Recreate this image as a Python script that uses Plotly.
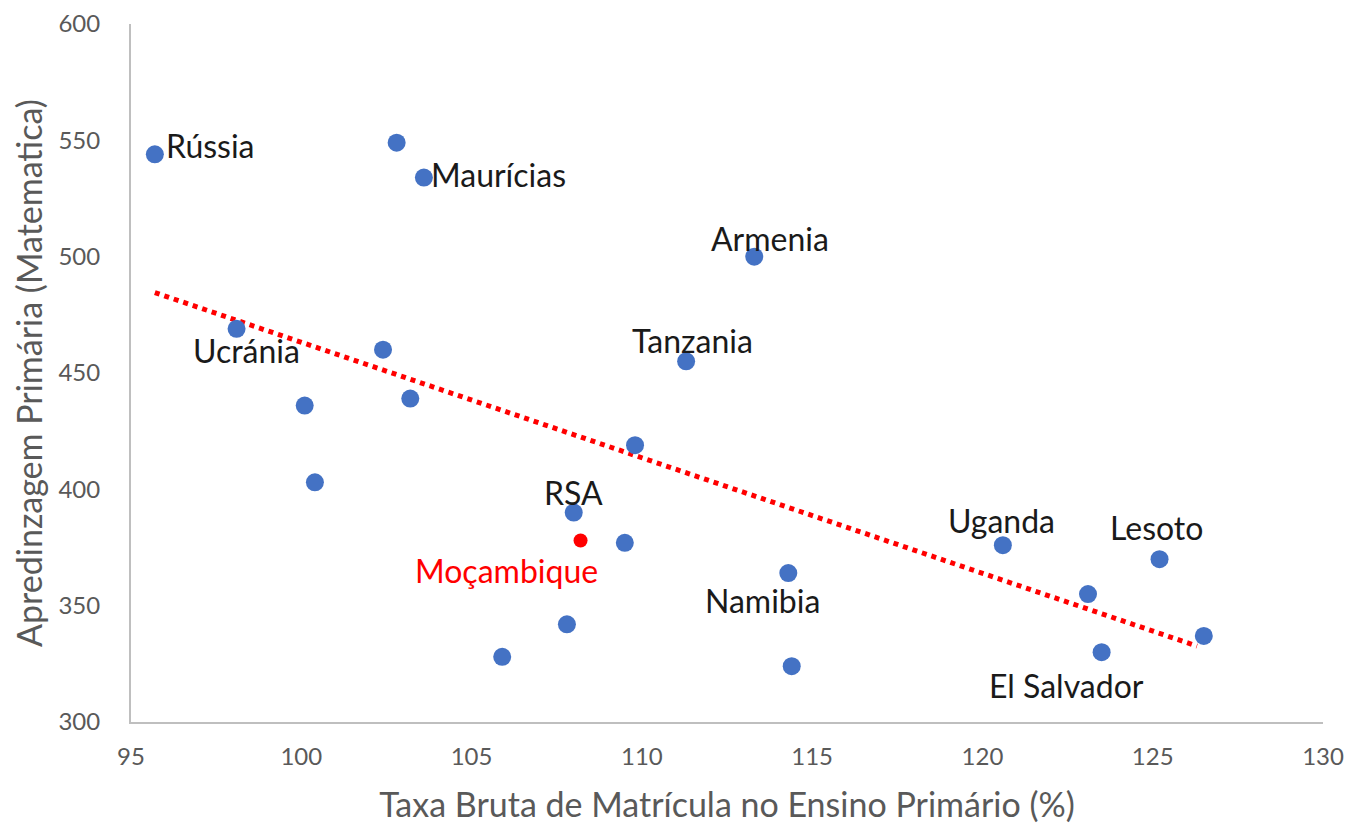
import numpy as np
import plotly.graph_objects as go

# Taxa bruta de matrícula (%) e aprendizagem (matemática)
taxa = [95.7, 102.8, 103.6, 113.3, 98.1, 102.4, 111.3, 100.1, 103.2, 109.8,
        100.4, 108.0, 109.5, 120.6, 125.2, 114.3, 123.1, 107.8, 105.9, 114.4,
        123.5, 126.5]
aprend = [544, 549, 534, 500, 469, 460, 455, 436, 439, 419,
          403, 390, 377, 376, 370, 364, 355, 342, 328, 324,
          330, 337]
paises = ["Rússia", "", "Maurícias", "Armenia", "Ucránia", "", "Tanzania", "", "", "",
          "", "RSA", "", "Uganda", "Lesoto", "Namibia", "", "", "", "",
          "El Salvador", ""]

moz_taxa = [108.2]
moz_aprend = [378]

# label offsets in pixels (x, y, anchor)
offsets = {
    "Rússia": (9, 9, "left"),
    "Maurícias": (5, 3, "left"),
    "Armenia": (16, 18, "center"),
    "Ucránia": (10, -22, "center"),
    "Tanzania": (6, 21, "center"),
    "RSA": (0, 20, "center"),
    "Uganda": (-1, 25, "center"),
    "Lesoto": (-3, 32, "center"),
    "Namibia": (-26, -27, "center"),
    "El Salvador": (-35, -33, "center"),
}

slope, intercept = np.polyfit(taxa, aprend, 1)
trend_x = [95.7, 126.3]
trend_y = [slope * v + intercept for v in trend_x]

fig = go.Figure()
fig.add_trace(go.Scatter(x=trend_x, y=trend_y, mode="lines",
                         line=dict(color="#ff0000", width=5, dash="dot"),
                         hoverinfo="skip"))
fig.add_trace(go.Scatter(x=taxa, y=aprend, mode="markers",
                         marker=dict(color="#4472c4", size=18)))
fig.add_trace(go.Scatter(x=moz_taxa, y=moz_aprend, mode="markers",
                         marker=dict(color="#ff0000", size=14)))

for x, y, p in zip(taxa, aprend, paises):
    if not p:
        continue
    dx, dy, anchor = offsets[p]
    fig.add_annotation(x=x, y=y, text=p, showarrow=False, xanchor=anchor,
                       xshift=dx, yshift=dy, font=dict(size=32, color="#1a1a1a"))

fig.add_annotation(x=moz_taxa[0], y=moz_aprend[0], text="Moçambique", showarrow=False,
                   xshift=-74, yshift=-30, font=dict(size=32, color="#ff0000"))

# page body has an 8px margin, so the figure is a bit smaller than the window
fig.update_layout(
    width=1347, height=824,
    margin=dict(l=123, r=32, t=16, b=110),
    plot_bgcolor="white", paper_bgcolor="white",
    showlegend=False,
    font=dict(family="Lato, Open Sans, sans-serif", color="#595959"),
)
fig.update_xaxes(range=[95, 130], dtick=5, showgrid=False, zeroline=False,
                 showline=True, linecolor="#bfbfbf", linewidth=2,
                 ticks="", ticklabelstandoff=12, automargin=False,
                 ticklabeloverflow="allow",
                 tickfont=dict(size=24, color="#595959"),
                 title=dict(text="Taxa Bruta de Matrícula no Ensino Primário (%)",
                            font=dict(size=34, color="#595959"), standoff=24))
fig.update_yaxes(range=[300, 600], dtick=50, showgrid=False, zeroline=False,
                 showline=True, linecolor="#bfbfbf", linewidth=2,
                 ticks="", ticklabelstandoff=24, automargin=False,
                 ticklabeloverflow="allow",
                 tickfont=dict(size=24, color="#595959"),
                 title=dict(text="Apredinzagem Primária (Matematica)",
                            font=dict(size=34, color="#595959"), standoff=12))

fig.write_html("out.html")
